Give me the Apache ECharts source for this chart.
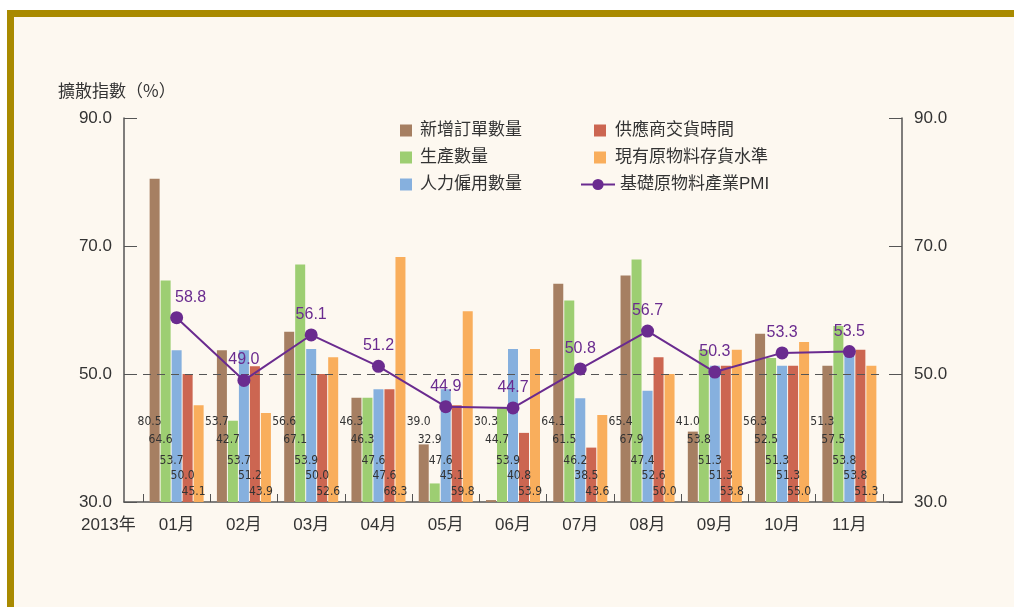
<!DOCTYPE html>
<html>
<head>
<meta charset="utf-8">
<script src="https://cdn.jsdelivr.net/npm/echarts@6/dist/echarts.min.js"></script>
<style>
html,body{margin:0;padding:0;background:#fff;}
#chart{position:absolute;left:0;top:0;width:1014px;height:607px;}
</style>
</head>
<body>
<div id="chart"></div>
<script>
// ---- data ----
const yearLabel = '2013年';
const months = ['01月','02月','03月','04月','05月','06月','07月','08月','09月','10月','11月'];
const newOrders  = [80.5,53.7,56.6,46.3,39.0,30.3,64.1,65.4,41.0,56.3,51.3];
const production = [64.6,42.7,67.1,46.3,32.9,44.7,61.5,67.9,53.8,52.5,57.5];
const employment = [53.7,53.7,53.9,47.6,47.6,53.9,46.2,47.4,51.3,51.3,53.8];
const delivery   = [50.0,51.2,50.0,47.6,45.1,40.8,38.5,52.6,51.3,51.3,53.8];
const inventory  = [45.1,43.9,52.6,68.3,59.8,53.9,43.6,50.0,53.8,55.0,51.3];
const pmi        = [58.8,49.0,56.1,51.2,44.9,44.7,50.8,56.7,50.3,53.3,53.5];
const seriesNames = ['新增訂單數量','生產數量','人力僱用數量','供應商交貨時間','現有原物料存貨水準','基礎原物料產業PMI'];
const yTicks = [30, 50, 70, 90];

const colors = ['#a67f62','#9dce72','#86b0de','#cc6651','#f9ae5c','#6a2b8f'];
const labelLift = [74, 56.5, 35.5, 20.5, 4.5];
const CJK = '"Liberation Sans","Noto Sans CJK TC",sans-serif';

const chart = echarts.init(document.getElementById('chart'), null, {renderer:'canvas'});

const barData = [newOrders, production, employment, delivery, inventory];
const barSeries = barData.map((arr, i) => ({
  name: seriesNames[i],
  type: 'bar',
  xAxisIndex: 0, yAxisIndex: 0,
  data: arr,
  barWidth: 10,
  barGap: '10%',
  itemStyle: {color: colors[i]},
  label: {
    show: true,
    position: 'insideBottom',
    distance: 0,
    offset: [-5, -labelLift[i]],
    formatter: p => p.value.toFixed(1),
    color: '#333',
    fontSize: 12,
    lineHeight: 12,
    fontFamily: '"Liberation Sans Narrow","DejaVu Sans Condensed",sans-serif'
  },
  z: 2
}));

const option = {
  backgroundColor: 'transparent',
  animation: false,
  color: colors,
  textStyle: {fontFamily: CJK},
  graphic: [
    {type:'rect', shape:{x:0,y:0,width:1014,height:607}, style:{fill:'#ffffff'}, z:-11, silent:true},
    {type:'rect', shape:{x:7,y:10,width:1007,height:597}, style:{fill:'#a98a00'}, z:-10, silent:true},
    {type:'rect', shape:{x:14,y:17,width:1000,height:590}, style:{fill:'#fdf8f0'}, z:-9, silent:true},
    {type:'text', left: 58, top: 82, style:{text:'擴散指數（%）', fill:'#333', font:'17px "Noto Sans CJK TC", sans-serif'}, z: 5},
    {type:'text', left: 81, top: 517, style:{text: yearLabel, fill:'#333', font:'17px "Liberation Sans","Noto Sans CJK TC", sans-serif'}, z: 5}
  ],
  legend: [
    {
      data: [seriesNames[0], seriesNames[1], seriesNames[2]],
      orient: 'vertical', left: 395, top: 117,
      itemWidth: 12, itemHeight: 12, itemGap: 10,
      textStyle: {fontSize: 17, color:'#333', fontFamily: CJK, padding:[0,0,0,3]},
      selectedMode: false, icon: 'rect'
    },
    {
      data: [seriesNames[3], seriesNames[4]],
      orient: 'vertical', left: 589, top: 117,
      itemWidth: 12, itemHeight: 12, itemGap: 10,
      textStyle: {fontSize: 17, color:'#333', fontFamily: CJK, padding:[0,0,0,4]},
      selectedMode: false, icon: 'rect'
    },
    {
      data: [seriesNames[5]],
      orient: 'vertical', left: 575, top: 171,
      itemWidth: 34, itemHeight: 14,
      textStyle: {fontSize: 17, color:'#333', fontFamily: CJK, padding:[0,0,0,0]},
      selectedMode: false
    }
  ],
  grid: [
    {left: 143, right: 131, top: 118, bottom: 105, containLabel: false},
    {left: 124, right: 112, top: 118, bottom: 105, containLabel: false}
  ],
  xAxis: [
    {
      type: 'category', gridIndex: 0, data: months,
      axisLine: {show: false},
      axisTick: {show: true, inside: true, length: 8, lineStyle: {color:'#555', width: 1}},
      axisLabel: {color:'#333', fontSize: 17, margin: 15, fontFamily: CJK}
    },
    {
      type: 'value', gridIndex: 1, min: 0, max: 1,
      axisLine: {show: true, lineStyle: {color:'#555', width: 1.5}},
      axisTick: {show: false}, axisLabel: {show: false}, splitLine: {show: false}
    }
  ],
  yAxis: [
    {
      type: 'value', gridIndex: 0, min: 30, max: 90, interval: 20, startValue: 30,
      position: 'left', offset: 19,
      axisLine: {show: true, lineStyle: {color:'#555', width: 1.5}},
      axisTick: {show: true, inside: true, length: 13, lineStyle: {color:'#555'}},
      axisLabel: {color:'#333', fontSize: 17, margin: 12, formatter: v => v.toFixed(1), fontFamily: '"Liberation Sans",sans-serif'},
      splitLine: {show: false}
    },
    {
      type: 'value', gridIndex: 0, min: 30, max: 90, interval: 20,
      position: 'right', offset: 19,
      axisLine: {show: true, lineStyle: {color:'#555', width: 1.5}},
      axisTick: {show: true, inside: true, length: 13, lineStyle: {color:'#555'}},
      axisLabel: {color:'#333', fontSize: 17, margin: 12, formatter: v => v.toFixed(1), fontFamily: '"Liberation Sans",sans-serif'},
      splitLine: {show: false}
    },
    {
      type: 'value', gridIndex: 1, min: 0, max: 1, show: false
    }
  ],
  series: [
    ...barSeries,
    {
      name: seriesNames[5],
      type: 'line',
      xAxisIndex: 0, yAxisIndex: 0,
      data: pmi.map((v, i) => i === 0 ? {value: v, label: {offset: [14, 0]}} : v),
      symbol: 'circle',
      symbolSize: 13,
      lineStyle: {color: colors[5], width: 2},
      itemStyle: {color: colors[5]},
      label: {
        show: true, position: 'top', distance: 6,
        color: colors[5], fontSize: 16,
        fontFamily: '"Liberation Sans",sans-serif',
        formatter: p => Number(p.value).toFixed(1)
      },
      markLine: {
        silent: true, symbol: ['none','none'],
        label: {show: false},
        lineStyle: {color:'#555', type: [8, 6], width: 1.2},
        data: [{yAxis: 50}]
      },
      z: 5
    }
  ]
};
chart.setOption(option);
</script>
</body>
</html>
